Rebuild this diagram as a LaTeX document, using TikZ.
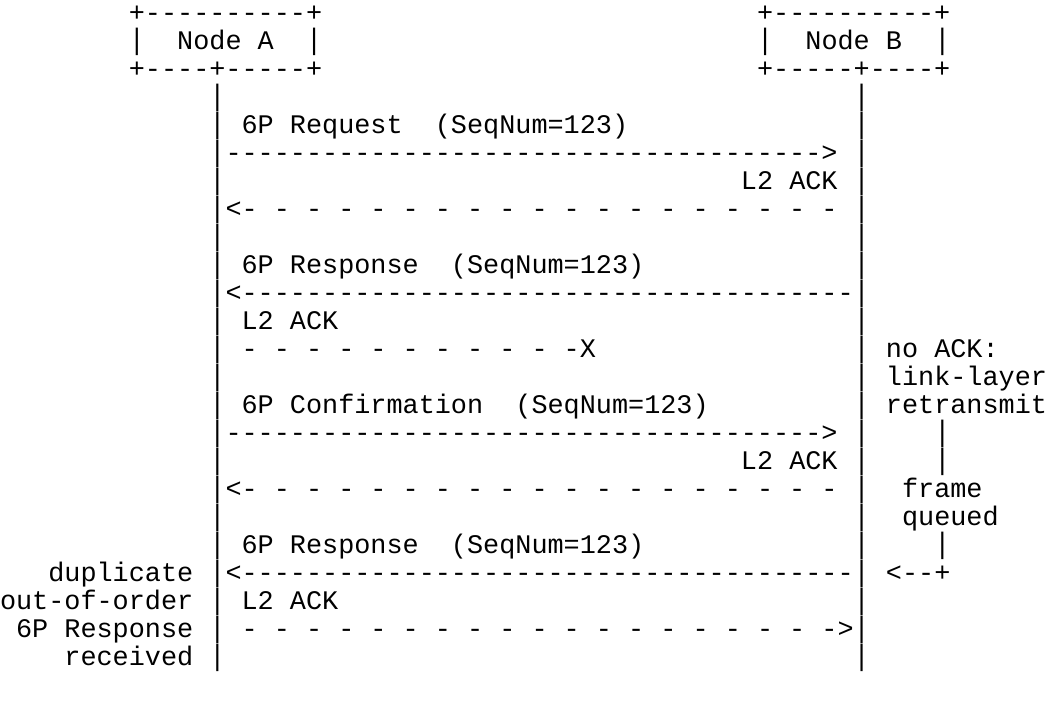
\documentclass[tikz,border=0pt]{standalone}
\usepackage{fontspec}
\setmonofont{Liberation Mono}
\usepackage{tikz}
\usetikzlibrary{positioning}

\begin{document}
\begin{tikzpicture}[
  x=16.1bp, y=-28bp,
  asc/.style={anchor=base west,inner sep=0pt,outer sep=0pt,
              font=\ttfamily\fontsize{26.83bp}{28bp}\selectfont},
  bar/.style={asc,yscale=1.1,transform shape}
]
  \useasboundingbox (0,0) rectangle (65,25.143);
  % node heads
  \node[asc] (topA) at (8,1-0.23) {+----------+};
  \node[bar] (sideAl) at (8,2-0.23) {|};
  \node[asc] (nameA) at (11,2-0.23) {Node A};
  \node[bar] (sideAr) at (19,2-0.23) {|};
  \node[asc] (botA) at (8,3-0.23) {+----+-----+};
  \node[asc] (topB) at (47,1-0.23) {+----------+};
  \node[bar] (sideBl) at (47,2-0.23) {|};
  \node[asc] (nameB) at (50,2-0.23) {Node B};
  \node[bar] (sideBr) at (58,2-0.23) {|};
  \node[asc] (botB) at (47,3-0.23) {+-----+----+};
  % lifelines
  \foreach \r in {4,...,24} {
    \node[bar] (lifeA\r) at (13,\r-0.23) {|};
    \node[bar] (lifeB\r) at (53,\r-0.23) {|};
  }
  % request
  \node[asc] (req) at (15,5-0.23) {6P Request~~(SeqNum=123)};
  \node[asc] (reqArr) at (14,6-0.23) {------------------------------------->};
  \node[asc] (ackReq) at (46,7-0.23) {L2 ACK};
  \node[asc] (ackReqArr) at (14,8-0.23) {<- - - - - - - - - - - - - - - - - - -};
  % response, ack lost
  \node[asc] (resp) at (15,10-0.23) {6P Response~~(SeqNum=123)};
  \node[asc] (respArr) at (14,11-0.23) {<--------------------------------------};
  \node[asc] (ackResp) at (15,12-0.23) {L2 ACK};
  \node[asc] (ackLost) at (15,13-0.23) {- - - - - - - - - - -X};
  % confirmation
  \node[asc] (conf) at (15,15-0.23) {6P Confirmation~~(SeqNum=123)};
  \node[asc] (confArr) at (14,16-0.23) {------------------------------------->};
  \node[asc] (ackConf) at (46,17-0.23) {L2 ACK};
  \node[asc] (ackConfArr) at (14,18-0.23) {<- - - - - - - - - - - - - - - - - - -};
  % retransmitted response
  \node[asc] (resp2) at (15,20-0.23) {6P Response~~(SeqNum=123)};
  \node[asc] (resp2Arr) at (14,21-0.23) {<--------------------------------------};
  \node[asc] (ackResp2) at (15,22-0.23) {L2 ACK};
  \node[asc] (ackResp2Arr) at (15,23-0.23) {- - - - - - - - - - - - - - - - - - ->};
  % notes at node B
  \node[asc] (noAck) at (55,13-0.23) {no ACK:};
  \node[asc] (llayer) at (55,14-0.23) {link-layer};
  \node[asc] (retx) at (55,15-0.23) {retransmit};
  \node[bar] (retxBar1) at (58,16-0.23) {|};
  \node[bar] (retxBar2) at (58,17-0.23) {|};
  \node[asc] (frame) at (56,18-0.23) {frame};
  \node[asc] (queued) at (56,19-0.23) {queued};
  \node[bar] (retxBar3) at (58,20-0.23) {|};
  \node[asc] (retxBack) at (55,21-0.23) {<--+};
  % notes at node A
  \node[asc] (dup) at (3,21-0.23) {duplicate};
  \node[asc] (ooo) at (0,22-0.23) {out-of-order};
  \node[asc] (dupResp) at (1,23-0.23) {6P Response};
  \node[asc] (recv) at (4,24-0.23) {received};
\end{tikzpicture}
\end{document}
